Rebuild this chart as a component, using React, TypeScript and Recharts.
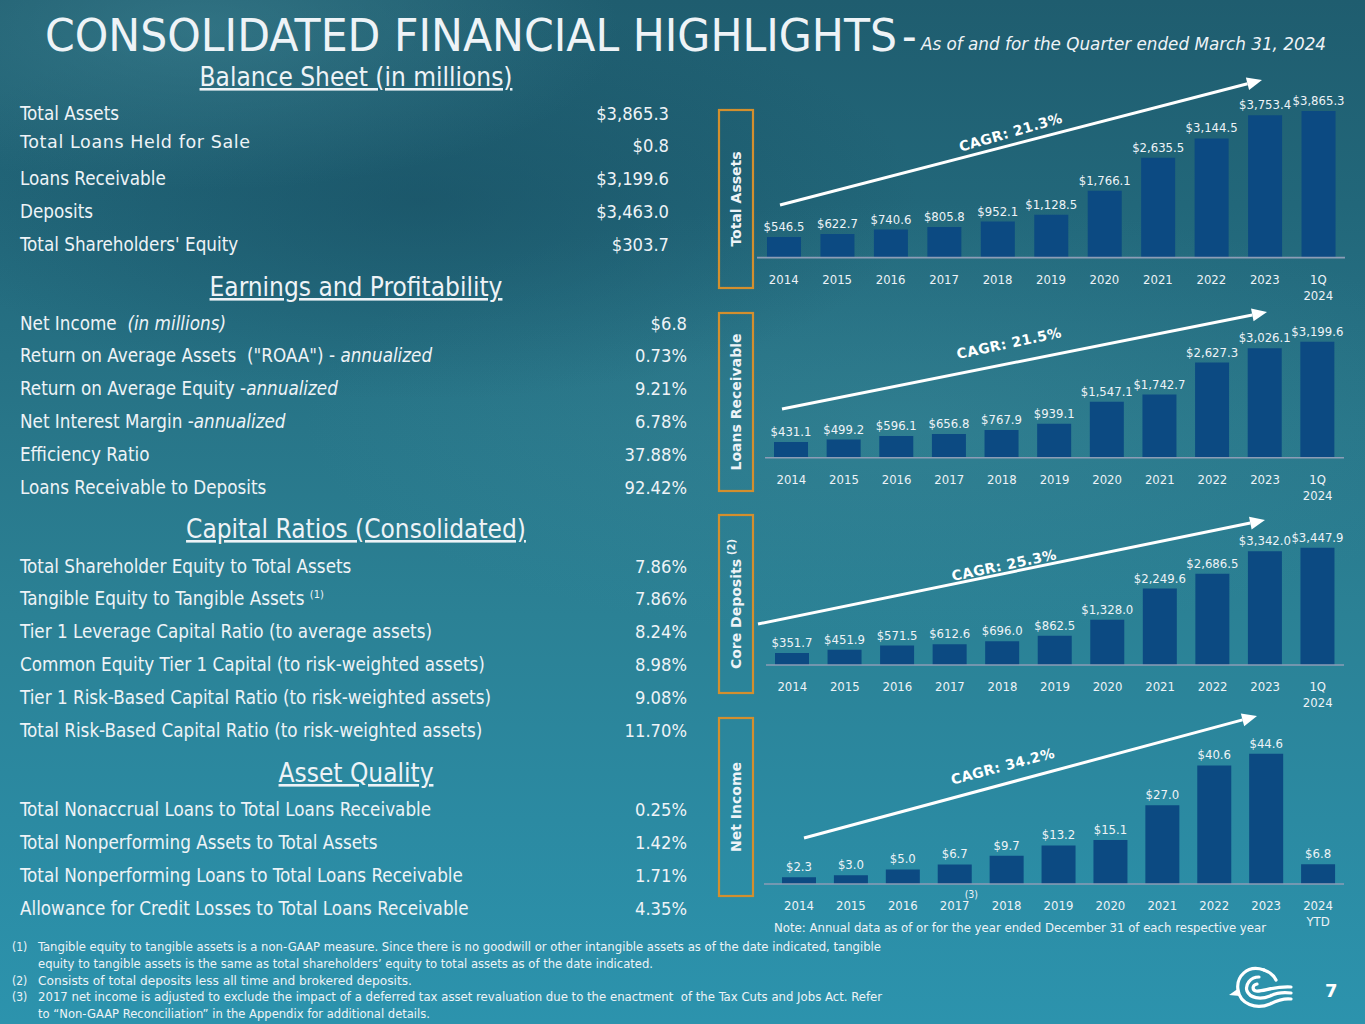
import React from 'react';
import { BarChart, Bar, XAxis, YAxis, LabelList } from 'recharts';

// ---------- DATA ----------
const yearCategories = ['2014', '2015', '2016', '2017', '2018', '2019', '2020', '2021', '2022', '2023', '1Q 2024'];
const incomeCategories = ['2014', '2015', '2016', '2017', '2018', '2019', '2020', '2021', '2022', '2023', '2024 YTD'];
const totalAssets = [546.5, 622.7, 740.6, 805.8, 952.1, 1128.5, 1766.1, 2635.5, 3144.5, 3753.4, 3865.3];
const loansReceivable = [431.1, 499.2, 596.1, 656.8, 767.9, 939.1, 1547.1, 1742.7, 2627.3, 3026.1, 3199.6];
const coreDeposits = [351.7, 451.9, 571.5, 612.6, 696.0, 862.5, 1328.0, 2249.6, 2686.5, 3342.0, 3447.9];
const netIncome = [2.3, 3.0, 5.0, 6.7, 9.7, 13.2, 15.1, 27.0, 40.6, 44.6, 6.8];
const cagrLabels = ['CAGR: 21.3%', 'CAGR: 21.5%', 'CAGR: 25.3%', 'CAGR: 34.2%'];

const balanceSheetRows = [
  ['Total Assets', '$3,865.3'],
  ['Total Loans Held for Sale', '$0.8'],
  ['Loans Receivable', '$3,199.6'],
  ['Deposits', '$3,463.0'],
  ["Total Shareholders' Equity", '$303.7'],
];
const earningsRows = [
  ['Net Income  _(in millions)_', '$6.8'],
  ['Return on Average Assets  ("ROAA") - _annualized_', '0.73%'],
  ['Return on Average Equity -_annualized_', '9.21%'],
  ['Net Interest Margin -_annualized_', '6.78%'],
  ['Efficiency Ratio', '37.88%'],
  ['Loans Receivable to Deposits', '92.42%'],
];
const capitalRows = [
  ['Total Shareholder Equity to Total Assets', '7.86%'],
  ['Tangible Equity to Tangible Assets ^(1)', '7.86%'],
  ['Tier 1 Leverage Capital Ratio (to average assets)', '8.24%'],
  ['Common Equity Tier 1 Capital (to risk-weighted assets)', '8.98%'],
  ['Tier 1 Risk-Based Capital Ratio (to risk-weighted assets)', '9.08%'],
  ['Total Risk-Based Capital Ratio (to risk-weighted assets)', '11.70%'],
];
const assetQualityRows = [
  ['Total Nonaccrual Loans to Total Loans Receivable', '0.25%'],
  ['Total Nonperforming Assets to Total Assets', '1.42%'],
  ['Total Nonperforming Loans to Total Loans Receivable', '1.71%'],
  ['Allowance for Credit Losses to Total Loans Receivable', '4.35%'],
];
const footnotes = [
  ['(1)', 'Tangible equity to tangible assets is a non-GAAP measure. Since there is no goodwill or other intangible assets as of the date indicated, tangible'],
  ['', 'equity to tangible assets is the same as total shareholders\u2019 equity to total assets as of the date indicated.'],
  ['(2)', 'Consists of total deposits less all time and brokered deposits.'],
  ['(3)', '2017 net income is adjusted to exclude the impact of a deferred tax asset revaluation due to the enactment  of the Tax Cuts and Jobs Act. Refer'],
  ['', 'to \u201CNon-GAAP Reconciliation\u201D in the Appendix for additional details.'],
];

// ---------- STYLE ----------
const FONT = "'DejaVu Sans Condensed', 'DejaVu Sans', sans-serif";
const FONT_WIDE = "'DejaVu Sans', sans-serif";
const TXT = '#eef3f7';
const BAR = '#0c4a82';
const ORANGE = '#d38f2e';

const toRows = (cats: string[], vals: number[]) => cats.map((c, i) => ({ cat: c, value: vals[i] }));
const fmtMoney = (v: any) =>
  '$' + Number(v).toLocaleString('en-US', { minimumFractionDigits: 1, maximumFractionDigits: 1 });

const makeTick = (supFor?: string) => (props: any) => {
  const { x, y, payload } = props;
  const lines = String(payload.value).split(' ');
  return (
    <g>
      <text x={x} y={y} textAnchor="middle" fill={TXT} fontSize={13} fontFamily={FONT}>
        {lines.map((l, i) => (
          <tspan key={i} x={x} dy={i === 0 ? 26 : 16}>
            {l}
          </tspan>
        ))}
      </text>
      {supFor && payload.value === supFor ? (
        <text x={x + 10} y={y + 14} fill={TXT} fontSize={10.5} fontFamily={FONT}>
          (3)
        </text>
      ) : null}
    </g>
  );
};

type ChartSpec = {
  data: { cat: string; value: number }[];
  rangeStart: number;
  rangeEnd: number;
  baseline: number;
  plotH: number;
  max: number;
  padLeft?: number;
  sup?: string;
};

const TOPM = 22;
const AXH = 46;

function MiniBar({ spec }: { spec: ChartSpec }) {
  const left = 700;
  const width = 665;
  const top = spec.baseline - spec.plotH - TOPM;
  const height = TOPM + spec.plotH + AXH;
  return (
    <div style={{ position: 'absolute', left, top, width, height }}>
      <BarChart
        width={width}
        height={height}
        data={spec.data}
        margin={{ top: TOPM, bottom: 0, left: spec.rangeStart - left, right: left + width - spec.rangeEnd }}
        barCategoryGap="18%"
      >
        <YAxis hide domain={[0, spec.max]} />
        <XAxis
          dataKey="cat"
          height={AXH}
          tickLine={false}
          tickSize={0}
          tickMargin={0}
          interval={0}
          axisLine={{ stroke: '#8d9db6', strokeWidth: 1.6 }}
          tick={makeTick(spec.sup)}
          padding={{ left: spec.padLeft || 0, right: 0 }}
        />
        <Bar dataKey="value" fill={BAR} barSize={34} isAnimationActive={false}>
          <LabelList
            dataKey="value"
            position="top"
            offset={6}
            formatter={fmtMoney}
            fill={TXT}
            fontSize={13}
            fontFamily={FONT}
          />
        </Bar>
      </BarChart>
    </div>
  );
}

function RichLabel({ text, x, y, size }: { text: string; x: number; y: number; size: number }) {
  const parts = text.split(/(_[^_]+_|\^\([^)]*\))/).filter((p) => p.length);
  return (
    <text x={x} y={y} fill={TXT} fontSize={size} fontFamily={FONT} style={{ whiteSpace: 'pre' }}>
      {parts.map((p, i) => {
        if (p.startsWith('_'))
          return (
            <tspan key={i} fontStyle="italic">
              {p.slice(1, -1)}
            </tspan>
          );
        if (p.startsWith('^'))
          return (
            <tspan key={i} fontSize={11} dy={-7}>
              {p.slice(1)}
            </tspan>
          );
        return <tspan key={i}>{p}</tspan>;
      })}
    </text>
  );
}

function Section({
  title,
  titleY,
  rows,
  y0,
  step,
  valueX,
}: {
  title: string;
  titleY: number;
  rows: string[][];
  y0: number;
  step: number;
  valueX: number;
}) {
  return (
    <g>
      <text
        x={356}
        y={titleY + 9}
        textAnchor="middle"
        fill={TXT}
        fontSize={26}
        fontFamily={FONT}
        textDecoration="underline"
      >
        {title}
      </text>
      {rows.map((r, i) => {
        const cy = y0 + i * step;
        const wide = r[0] === 'Total Loans Held for Sale';
        return (
          <g key={i}>
            {wide ? (
              <text x={20} y={cy + 6 - 4} fill={TXT} fontSize={17.5} fontFamily={FONT_WIDE} letterSpacing={0.6}>
                {r[0]}
              </text>
            ) : (
              <RichLabel text={r[0]} x={20} y={cy + 6.5} size={18.7} />
            )}
            <text x={valueX} y={cy + 6.5} textAnchor="end" fill={TXT} fontSize={18.2} fontFamily={FONT}>
              {r[1]}
            </text>
          </g>
        );
      })}
    </g>
  );
}

function Arrow({ x1, y1, x2, y2 }: { x1: number; y1: number; x2: number; y2: number }) {
  const a = Math.atan2(y2 - y1, x2 - x1);
  const L = 15;
  const W = 6.5;
  const bx = x2 - L * Math.cos(a);
  const by = y2 - L * Math.sin(a);
  const px = -Math.sin(a) * W;
  const py = Math.cos(a) * W;
  return (
    <g>
      <line x1={x1} y1={y1} x2={bx} y2={by} stroke="#ffffff" strokeWidth={3} />
      <polygon points={`${x2},${y2} ${bx + px},${by + py} ${bx - px},${by - py}`} fill="#ffffff" />
    </g>
  );
}

function SideBox({ y1, y2, label, sup }: { y1: number; y2: number; label: string; sup?: string }) {
  const cx = 736;
  const cy = (y1 + y2) / 2;
  return (
    <g>
      <rect x={719} y={y1} width={34} height={y2 - y1} fill="none" stroke={ORANGE} strokeWidth={2.2} />
      <text
        transform={`translate(${cx + 5},${cy}) rotate(-90)`}
        textAnchor="middle"
        fill={TXT}
        fontSize={14}
        fontWeight="bold"
        fontFamily={FONT_WIDE}
      >
        {label}
        {sup ? (
          <tspan fontSize={10} dy={-6} dx={4}>
            {sup}
          </tspan>
        ) : null}
      </text>
    </g>
  );
}

function Cagr({ x, y, angle, text }: { x: number; y: number; angle: number; text: string }) {
  return (
    <text
      transform={`translate(${x},${y}) rotate(${angle})`}
      textAnchor="middle"
      fill="#ffffff"
      fontSize={14}
      fontWeight="bold"
      fontFamily={FONT_WIDE}
      letterSpacing={0.4}
    >
      {text}
    </text>
  );
}

export default function App() {
  const charts: ChartSpec[] = [
    { data: toRows(yearCategories, totalAssets), rangeStart: 757, rangeEnd: 1345, baseline: 258, plotH: 151.6, max: 4000 },
    { data: toRows(yearCategories, loansReceivable), rangeStart: 765, rangeEnd: 1344, baseline: 457.7, plotH: 126.7, max: 3500 },
    { data: toRows(yearCategories, coreDeposits), rangeStart: 766, rangeEnd: 1344, baseline: 665.3, plotH: 136, max: 4000 },
    { data: toRows(incomeCategories, netIncome), rangeStart: 764, rangeEnd: 1344, baseline: 883.7, plotH: 146, max: 50, padLeft: 9, sup: '2017' },
  ];
  return (
    <div
      style={{
        position: 'absolute',
        left: 0,
        top: 0,
        width: 1365,
        height: 1024,
        overflow: 'hidden',
        background:
          'radial-gradient(ellipse 420px 160px at 200px 30px, rgba(70,140,155,0.45), rgba(70,140,155,0) 100%),' +
          'radial-gradient(ellipse 500px 200px at 420px 200px, rgba(20,70,90,0.45), rgba(20,70,90,0) 100%),' +
          'radial-gradient(ellipse 600px 220px at 900px 420px, rgba(70,150,165,0.25), rgba(70,150,165,0) 100%),' +
          'linear-gradient(180deg, #1f5d6f 0%, #22677a 20%, #287689 42%, #2b8195 60%, #2b8aa2 80%, #2c93ad 100%)',
      }}
    >
      {charts.map((c, i) => (
        <MiniBar key={i} spec={c} />
      ))}
      <svg
        width={1365}
        height={1024}
        style={{ position: 'absolute', left: 0, top: 0, pointerEvents: 'none' }}
      >
        {/* Title */}
        <text x={45} y={51} fill={TXT} fontSize={45} fontFamily={FONT} textLength={852} lengthAdjust="spacingAndGlyphs">
          CONSOLIDATED FINANCIAL HIGHLIGHTS
        </text>
        <text x={902} y={51} fill={TXT} fontSize={45} fontFamily={FONT}>
          -
        </text>
        <text x={921} y={50} fill={TXT} fontSize={17.5} fontStyle="italic" fontFamily={FONT} textLength={405} lengthAdjust="spacingAndGlyphs">
          As of and for the Quarter ended March 31, 2024
        </text>

        <Section title="Balance Sheet (in millions)" titleY={77} rows={balanceSheetRows} y0={113} step={32.75} valueX={669} />
        <Section title="Earnings and Profitability" titleY={287} rows={earningsRows} y0={323} step={32.8} valueX={687} />
        <Section title="Capital Ratios (Consolidated)" titleY={529} rows={capitalRows} y0={566} step={32.8} valueX={687} />
        <Section title="Asset Quality" titleY={773} rows={assetQualityRows} y0={809} step={33} valueX={687} />

        {/* Side boxes */}
        <SideBox y1={110} y2={288} label="Total Assets" />
        <SideBox y1={313} y2={491} label="Loans Receivable" />
        <SideBox y1={515} y2={693} label="Core Deposits" sup="(2)" />
        <SideBox y1={718} y2={896} label="Net Income" />

        {/* CAGR arrows */}
        <Arrow x1={780} y1={205} x2={1262} y2={80} />
        <Arrow x1={782} y1={409} x2={1267} y2={312} />
        <Arrow x1={758} y1={624} x2={1265} y2={520} />
        <Arrow x1={804} y1={838} x2={1257} y2={716} />
        <Cagr x={1012} y={137} angle={-16} text={cagrLabels[0]} />
        <Cagr x={1010} y={348} angle={-12} text={cagrLabels[1]} />
        <Cagr x={1005} y={570} angle={-12} text={cagrLabels[2]} />
        <Cagr x={1004} y={771} angle={-15} text={cagrLabels[3]} />

        {/* Note */}
        <text x={774} y={932} fill={TXT} fontSize={12.5} fontFamily={FONT} textLength={492} lengthAdjust="spacingAndGlyphs">
          Note: Annual data as of or for the year ended December 31 of each respective year
        </text>

        {/* Footnotes */}
        {footnotes.map((f, i) => {
          const y = [951, 967.5, 984.5, 1001, 1017.5][i];
          const ends = [881, 653, 412, 882, 430];
          return (
            <g key={i}>
              {f[0] ? (
                <text x={12} y={y} fill={TXT} fontSize={12} fontFamily={FONT}>
                  {f[0]}
                </text>
              ) : null}
              <text x={38} y={y} fill={TXT} fontSize={12} fontFamily={FONT} textLength={ends[i] - 38} lengthAdjust="spacingAndGlyphs" style={{ whiteSpace: 'pre' }}>
                {f[1]}
              </text>
            </g>
          );
        })}

        {/* Logo */}
        <g fill="none" stroke="#ffffff" strokeWidth={3.2} strokeLinecap="round">
          <path d="M1264 970 C1247 964 1236 977 1238 990 C1240 1004 1256 1010 1270 1004 C1278 1000 1284 998 1291 999" />
          <path d="M1259 977 C1250 977 1245 985 1247 991 C1250 998 1260 1000 1270 996 C1278 992 1284 992 1291 993" />
          <path d="M1257 984 C1252 985 1252 990 1256 991 C1263 992 1273 986 1291 987" />
          <path d="M1264 970 C1270 972 1274 976 1276 980" />
        </g>
        <path d="M1239 988 L1229 995 L1240 996 Z" fill="#ffffff" />
        <text x={1325} y={997} fill="#ffffff" fontSize={18} fontWeight="bold" fontFamily={FONT_WIDE}>
          7
        </text>
      </svg>
    </div>
  );
}
